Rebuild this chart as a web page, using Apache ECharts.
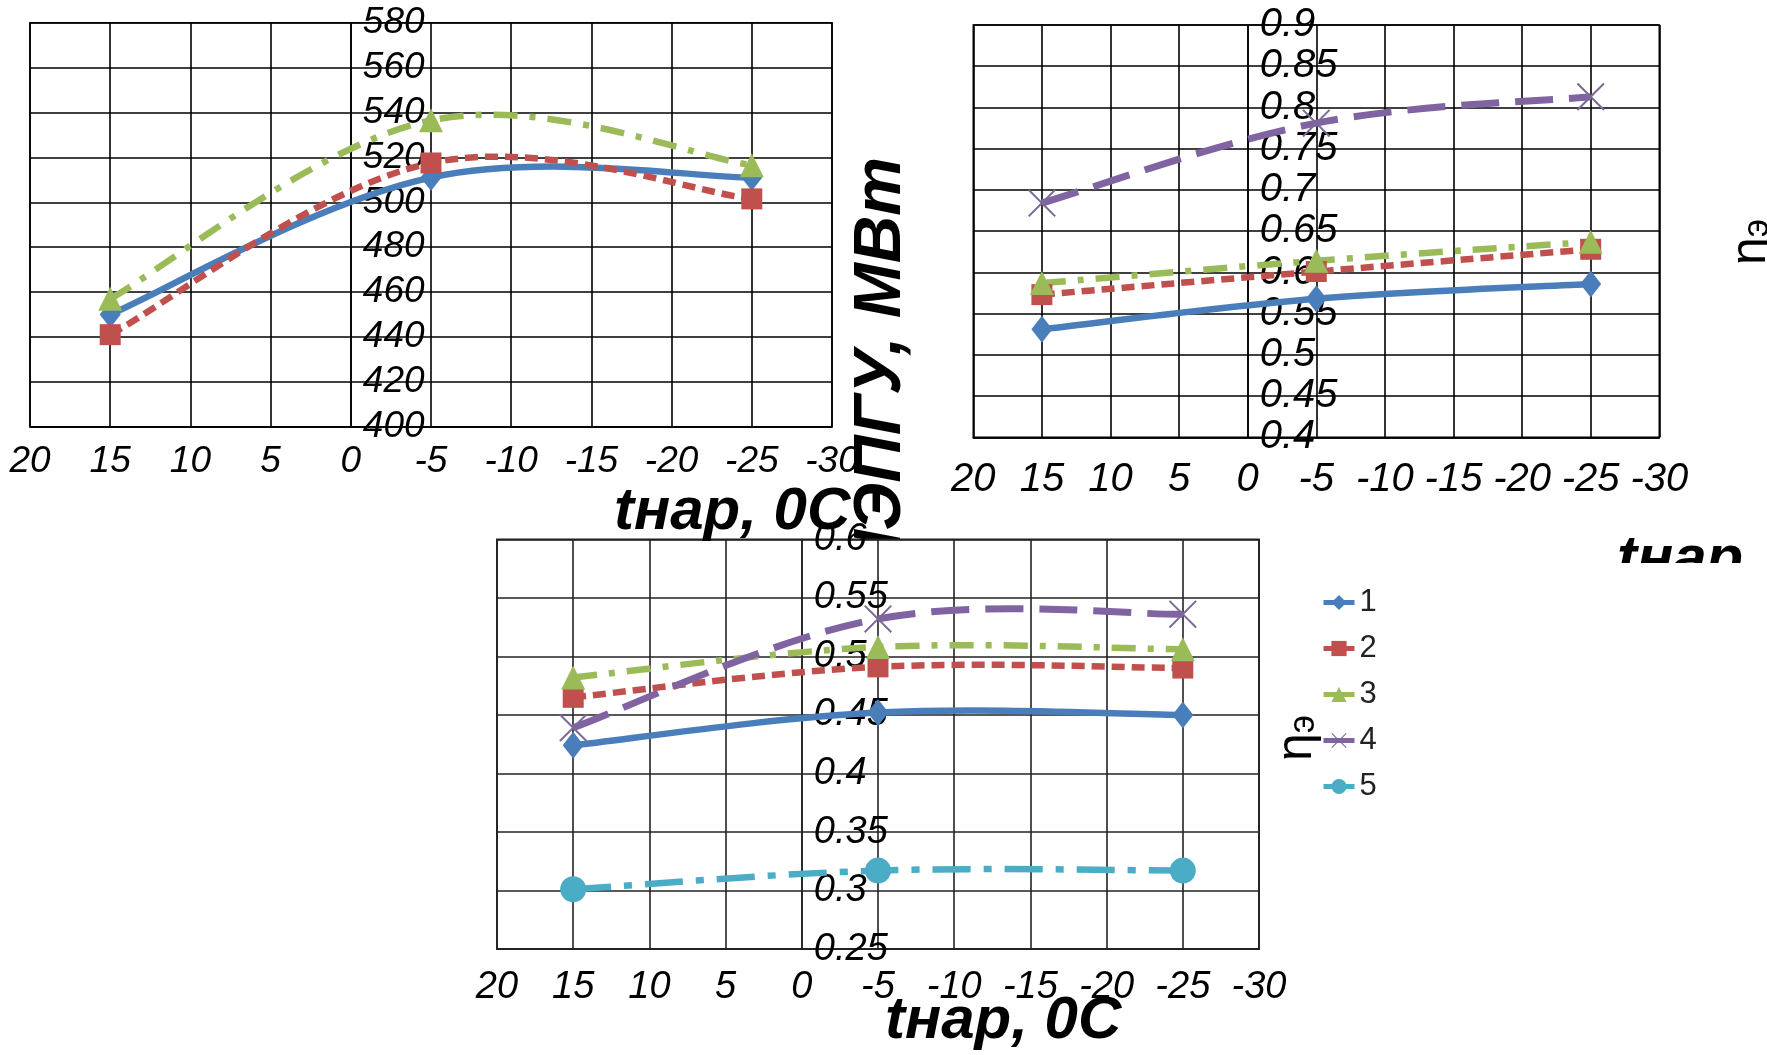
<!DOCTYPE html>
<html><head><meta charset="utf-8">
<script src="https://cdn.jsdelivr.net/npm/echarts@6/dist/echarts.min.js"></script>
<style>html,body{margin:0;padding:0;background:#fff}#c{width:1767px;height:1055px}</style>
</head><body><div id="c"></div>
<script>
// ---- data ----
const temps = [15, -5, -25];
const legendNames = ['1', '2', '3', '4', '5'];
// chart 1: N ЭПГУ, МВт
const power1 = [450, 511, 511];
const power2 = [441, 517.5, 501.5];
const power3 = [457, 536.5, 516.5];
// chart 2: efficiency (top right)
const effA1 = [0.531, 0.568, 0.586];
const effA2 = [0.573, 0.601, 0.628];
const effA3 = [0.587, 0.614, 0.637];
const effA4 = [0.684, 0.781, 0.813];
// chart 3: ηэ (bottom)
const effB1 = [0.424, 0.452, 0.450];
const effB2 = [0.465, 0.491, 0.490];
const effB3 = [0.482, 0.508, 0.506];
const effB4 = [0.439, 0.532, 0.536];
const effB5 = [0.301, 0.317, 0.317];
const xTitle = 'tнар, 0С';
const yTitle1 = 'NЭПГУ, МВт';

// ---- styles ----
const XPATH = 'path://M0,1L1,0L10,9L19,0L20,1L11,10L20,19L19,20L10,11L1,20L0,19L9,10Z';
const styles = [
  {color:'#4a7ebb', symbol:'diamond', size:[21,27], dash:null, w:6.5},
  {color:'#c0504d', symbol:'rect', size:21, dash:[13,7], w:6.5},
  {color:'#9bbb59', symbol:'triangle', size:[24,24], dash:[24,12,6,12], w:6.5},
  {color:'#8064a2', symbol:XPATH, size:28, dash:[38,16], w:7, mcolor:'#7b6a96'},
  {color:'#4bacc6', symbol:'circle', size:26, dash:[38,13,8,13], w:6.5}
];
const SMOOTH_K = 0.18;

// markers (line series, line itself hidden; curve drawn by custom series)
function marks(name, vals, si, gi) {
  const st = styles[si];
  return {
    name: name, type: 'line', xAxisIndex: gi, yAxisIndex: gi,
    data: temps.map((t, i) => [t, vals[i]]),
    symbol: st.symbol, symbolSize: st.size, showAllSymbol: true,
    lineStyle: {color: st.color, width: 0, opacity: 0},
    itemStyle: {color: st.mcolor || st.color},
    z: 3 + si * 0.1
  };
}
// smoothed (Catmull-Rom / Excel-like) curve through the data, via api.coord
function curve(vals, si, gi) {
  const st = styles[si];
  return {
    type: 'custom', xAxisIndex: gi, yAxisIndex: gi, silent: true,
    data: temps.map((t, i) => [t, vals[i]]),
    encode: {x: 0, y: 1},
    z: 2 + si * 0.1,
    renderItem: function (params, api) {
      if (params.dataIndex !== 0) return null;
      const p = temps.map((t, i) => api.coord([t, vals[i]]));
      const n = p.length;
      let d = 'M' + p[0][0].toFixed(2) + ',' + p[0][1].toFixed(2);
      for (let i = 0; i < n - 1; i++) {
        const p0 = p[Math.max(i - 1, 0)], p1 = p[i], p2 = p[i + 1], p3 = p[Math.min(i + 2, n - 1)];
        const c1x = p1[0] + (p2[0] - p0[0]) * SMOOTH_K, c1y = p1[1] + (p2[1] - p0[1]) * SMOOTH_K;
        const c2x = p2[0] - (p3[0] - p1[0]) * SMOOTH_K, c2y = p2[1] - (p3[1] - p1[1]) * SMOOTH_K;
        d += 'C' + [c1x, c1y, c2x, c2y, p2[0], p2[1]].map(v => v.toFixed(2)).join(',');
      }
      return {
        type: 'path', shape: {pathData: d},
        style: {fill: null, stroke: st.color, lineWidth: st.w, lineDash: st.dash, lineCap: 'butt', lineJoin: 'round'}
      };
    }
  };
}

const gridLine = (c, w) => ({show: true, lineStyle: {color: c, width: w}});
function xAx(gi, fs, margin, col) {
  return {
    gridIndex: gi, type: 'value', min: -30, max: 20, interval: 5, inverse: true,
    axisLine: {show: true, onZero: false, lineStyle: {color: col, width: 1.6}},
    axisTick: {show: false},
    splitLine: gridLine(col, 1.6),
    axisLabel: {fontStyle: 'italic', fontSize: fs, color: '#000', margin: margin, fontFamily: 'Liberation Sans'}
  };
}
// y axis sits at x = 0 of the reversed x axis (20 .. -30): 20/50 of grid width from the left
function yAx(gi, gridW, min, max, interval, fs, col) {
  return {
    gridIndex: gi, type: 'value', min: min, max: max, interval: interval, position: 'left',
    offset: -gridW * 20 / 50,
    axisLine: {show: true, onZero: false, lineStyle: {color: col, width: 1.6}},
    axisTick: {show: false},
    splitLine: gridLine(col, 1.6),
    axisLabel: {inside: true, margin: 12, fontStyle: 'italic', fontSize: fs, color: '#000', fontFamily: 'Liberation Sans'}
  };
}

const G = [
  {left: 30, top: 22.7, width: 802, height: 404},
  {left: 973.3, top: 25, width: 686, height: 412.3},
  {left: 497, top: 539.3, width: 762, height: 409.7}
];

const chart = echarts.init(document.getElementById('c'), null, {renderer: 'canvas'});
const etaRich = {
  a: {fontSize: 50, fontFamily: 'Liberation Sans', fill: '#000'},
  b: {fontSize: 36, fontFamily: 'Liberation Sans', fill: '#000', verticalAlign: 'bottom'}
};
const series = [];
const sets = [
  [[effB1, effB2, effB3, effB4, effB5], 2],
  [[power1, power2, power3], 0],
  [[effA1, effA2, effA3, effA4], 1]
];
sets.forEach(([arrs, gi]) => {
  arrs.forEach((vals, si) => {
    series.push(curve(vals, si, gi));
    series.push(marks(gi === 2 ? legendNames[si] : ('g' + gi + '_' + si), vals, si, gi));
  });
});

chart.setOption({
  animation: false,
  backgroundColor: '#fff',
  textStyle: {fontFamily: 'Liberation Sans'},
  grid: [
    Object.assign({show: true, borderColor: '#000', borderWidth: 1.6, backgroundColor: 'transparent'}, G[0]),
    Object.assign({show: true, borderColor: '#000', borderWidth: 1.6, backgroundColor: 'transparent'}, G[1]),
    Object.assign({show: true, borderColor: '#222', borderWidth: 1.8, backgroundColor: '#fff'}, G[2])
  ],
  xAxis: [xAx(0, 37, 17, '#000'), xAx(1, 40, 23, '#000'), xAx(2, 38, 19, '#222')],
  yAxis: [
    yAx(0, G[0].width, 400, 580, 20, 37, '#000'),
    yAx(1, G[1].width, 0.4, 0.9, 0.05, 40, '#000'),
    yAx(2, G[2].width, 0.25, 0.6, 0.05, 38, '#222')
  ],
  legend: {
    orient: 'vertical', left: 1321, top: 587, padding: 0,
    itemWidth: 31, itemHeight: 19, itemGap: 15,
    data: legendNames,
    lineStyle: {type: 'solid', width: 5, opacity: 1},
    textStyle: {fontSize: 31, lineHeight: 31, color: '#222', fontFamily: 'Liberation Sans'}
  },
  series: series,
  graphic: [
    {type: 'text', x: 882, y: 157, rotation: Math.PI / 2, z: -1,
     style: {text: yTitle1, font: 'italic bold 66px "Liberation Sans"', fill: '#000', align: 'right', verticalAlign: 'middle'}},
    {type: 'text', x: 614, y: 512, z: 5,
     style: {text: xTitle, font: 'italic bold 60px "Liberation Sans"', fill: '#000', align: 'left', verticalAlign: 'middle'}},
    {type: 'text', x: 885, y: 1021, z: 5,
     style: {text: xTitle, font: 'italic bold 60px "Liberation Sans"', fill: '#000', align: 'left', verticalAlign: 'middle'}},
    {type: 'text', x: 1617, y: 560, z: 5,
     style: {text: xTitle, font: 'italic bold 60px "Liberation Sans"', fill: '#000', align: 'left', verticalAlign: 'middle'}},
    {type: 'rect', z: 6, shape: {x: 1590, y: 563, width: 177, height: 60}, style: {fill: '#fff'}},
    {type: 'text', x: 1297, y: 738, rotation: Math.PI / 2, z: 5,
     style: {text: '{a|η}{b|э}', rich: etaRich, align: 'center', verticalAlign: 'middle'}},
    {type: 'text', x: 1751, y: 242, rotation: Math.PI / 2, z: 5,
     style: {text: '{a|η}{b|э}', rich: etaRich, align: 'center', verticalAlign: 'middle'}}
  ]
});
</script>
</body></html>
